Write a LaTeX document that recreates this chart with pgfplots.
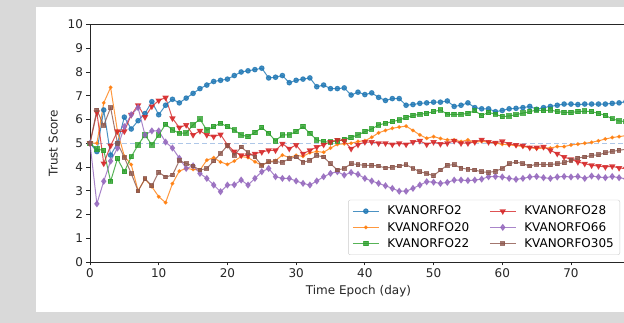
\documentclass[border=0pt]{standalone}
\usepackage{fontspec}
\setmainfont{DejaVu Sans}
\usepackage{pgfplots}
\pgfplotsset{compat=1.18}
\usepackage{pgfplotstable}
\definecolor{c1}{HTML}{1F77B4}
\definecolor{c2}{HTML}{FF7F0E}
\definecolor{c3}{HTML}{2CA02C}
\definecolor{c4}{HTML}{D62728}
\definecolor{c5}{HTML}{9467BD}
\definecolor{c6}{HTML}{8C564B}
\definecolor{bggray}{HTML}{D9D9D9}
\definecolor{refline}{HTML}{AEC7E8}
\pgfplotstableread{
x a b c d e f
0 5.0 5.0 5.0 5.0 5.0 5.0
1 4.65 5.0 4.75 6.3 2.45 6.4
2 6.4 6.7 4.7 4.15 3.4 5.75
3 4.5 7.35 3.4 4.9 4.25 6.5
4 5.0 5.5 4.35 5.5 4.8 5.0
5 6.1 4.45 3.8 5.5 5.7 4.4
6 5.6 4.1 4.43 6.2 6.2 3.73
7 5.95 3.0 4.93 6.6 6.5 2.99
8 6.25 3.5 5.35 6.1 5.35 3.5
9 6.75 3.17 4.93 6.55 5.52 3.21
10 6.2 2.75 5.35 6.8 5.52 3.78
11 6.6 2.5 5.8 6.92 5.05 3.58
12 6.85 3.3 5.56 6.05 4.8 3.66
13 6.7 3.83 5.42 5.66 4.37 4.27
14 6.9 3.94 5.43 5.77 3.94 4.15
15 7.1 3.9 5.77 5.35 4.05 4.04
16 7.3 3.87 6.02 5.52 3.73 3.87
17 7.45 4.29 5.55 5.35 3.52 3.94
18 7.6 4.39 5.7 5.28 3.24 4.25
19 7.65 4.21 5.84 5.37 2.96 4.57
20 7.7 4.11 5.7 4.93 3.24 4.9
21 7.85 4.25 5.56 4.65 3.25 4.49
22 8.0 4.44 5.35 4.49 3.45 4.84
23 8.05 4.4 5.28 4.49 3.24 4.6
24 8.1 4.22 5.46 4.56 3.52 4.42
25 8.16 4.07 5.66 4.63 3.8 4.07
26 7.75 4.22 5.42 4.7 3.94 4.22
27 7.78 4.27 5.1 4.7 3.59 4.22
28 7.85 4.5 5.35 4.98 3.52 4.2
29 7.55 4.4 5.35 4.77 3.52 4.35
30 7.65 4.49 5.5 4.93 3.41 4.42
31 7.7 4.45 5.7 4.56 3.31 4.2
32 7.75 4.6 5.42 4.7 3.24 4.28
33 7.38 4.65 5.14 4.84 3.41 4.49
34 7.45 4.62 5.07 4.94 3.59 4.42
35 7.3 4.8 5.05 5.05 3.73 4.14
36 7.3 4.95 5.1 5.14 3.8 3.87
37 7.33 4.98 5.17 5.1 3.66 3.94
38 7.03 5.0 5.25 4.77 3.77 4.14
39 7.15 5.07 5.35 4.94 3.69 4.1
40 7.05 5.11 5.49 5.05 3.52 4.07
41 7.12 5.25 5.6 5.05 3.41 4.07
42 6.93 5.44 5.77 5.0 3.31 4.04
43 6.8 5.54 5.84 5.0 3.21 3.96
44 6.88 5.63 5.91 4.95 3.1 3.99
45 6.88 5.68 5.98 5.0 2.98 4.04
46 6.6 5.72 6.08 4.95 2.98 4.1
47 6.63 5.54 6.17 5.05 3.1 3.94
48 6.68 5.35 6.22 5.1 3.24 3.8
49 6.7 5.21 6.26 4.95 3.38 3.73
50 6.73 5.28 6.33 5.05 3.36 3.63
51 6.73 5.2 6.4 4.97 3.31 3.87
52 6.78 5.14 6.22 5.0 3.35 4.07
53 6.55 5.14 6.22 5.1 3.45 4.1
54 6.6 5.07 6.22 5.0 3.45 3.95
55 6.7 5.14 6.26 5.0 3.43 3.91
56 6.5 5.04 6.37 5.05 3.45 3.87
57 6.45 5.08 6.17 5.15 3.49 3.8
58 6.45 5.04 6.3 5.05 3.59 3.77
59 6.33 5.0 6.22 5.02 3.6 3.82
60 6.38 4.96 6.12 5.08 3.58 3.94
61 6.45 4.93 6.15 4.97 3.52 4.14
62 6.47 4.9 6.2 4.93 3.48 4.21
63 6.5 4.86 6.27 4.9 3.52 4.14
64 6.55 4.82 6.33 4.82 3.58 4.04
65 6.43 4.77 6.4 4.82 3.6 4.12
66 6.5 4.8 6.37 4.85 3.55 4.1
67 6.55 4.8 6.4 4.7 3.52 4.1
68 6.6 4.86 6.33 4.56 3.58 4.14
69 6.65 4.86 6.3 4.42 3.6 4.18
70 6.65 4.93 6.3 4.32 3.58 4.28
71 6.63 4.96 6.33 4.21 3.6 4.38
72 6.65 5.0 6.35 4.14 3.52 4.42
73 6.65 5.04 6.33 4.07 3.62 4.49
74 6.65 5.1 6.26 4.04 3.58 4.51
75 6.65 5.18 6.17 4.0 3.55 4.6
76 6.68 5.24 6.03 4.03 3.6 4.66
77 6.7 5.28 5.94 3.96 3.55 4.7
78 6.75 5.32 5.91 3.93 3.5 4.75
}\data
\begin{document}
\begin{tikzpicture}
\path[use as bounding box] (0pt,0pt) rectangle (624pt,323pt);
\fill[bggray] (0pt,0pt) rectangle (624pt,323pt);
\fill[white] (36pt,11pt) rectangle (624pt,315.5pt);
\clip (0pt,0pt) rectangle (624pt,323pt);
\begin{axis}[
  at={(90pt,61pt)}, anchor=south west,
  scale only axis, width=537pt, height=237.5pt,
  xmin=0, xmax=78.15, ymin=0, ymax=10,
  xtick={0,10,...,70}, ytick={0,1,...,10},
  tick align=outside, xtick pos=bottom, ytick pos=left,
  major tick length=3.5pt,
  axis line style={black!85, line width=0.8pt},
  every tick/.style={black!85, line width=0.8pt},
  tick label style={font=\fontsize{12}{14}\selectfont, text=black!85},
  /pgf/number format/assume math mode=true,
  xlabel={Time Epoch (day)}, ylabel={Trust Score},
  label style={font=\fontsize{12}{14}\selectfont, text=black!85},
  ylabel style={xshift=0pt, yshift=3pt},
  legend columns=2,
  legend cell align=left,
  legend style={at={(1,0)}, anchor=south east, xshift=-7pt, yshift=7pt,
    draw=black!20, rounded corners=2pt, fill=white, fill opacity=0.8, text opacity=1,
    font=\fontsize{12}{14}\selectfont, inner sep=4pt, row sep=1.8pt,
    /tikz/every odd column/.append style={column sep=6pt},
    /tikz/every even column/.append style={column sep=18pt}},
  legend image code/.code={\draw[mark repeat=2,mark phase=2] plot coordinates {(0pt,0pt) (13pt,0pt) (26pt,0pt)};},
  every axis plot/.append style={line width=1pt, opacity=0.8},
]
\addplot[refline, dash pattern=on 5pt off 3pt, forget plot, opacity=1] coordinates {(0,5) (78.15,5)};
\addplot[c1, mark=*, mark size=2.3pt, forget plot] table[x=x,y=a]{\data};
\addplot[c2, mark=*, mark size=1.4pt, forget plot] table[x=x,y=b]{\data};
\addplot[c3, mark=square*, mark size=2.2pt, forget plot] table[x=x,y=c]{\data};
\addplot[c4, mark=triangle*, mark size=2.8pt, mark options={rotate=180}, forget plot] table[x=x,y=d]{\data};
\addplot[c5, mark=diamond*, mark size=2.8pt, forget plot] table[x=x,y=e]{\data};
\addplot[c6, mark=square*, mark size=1.9pt, forget plot] table[x=x,y=f]{\data};
\addlegendimage{c1, line width=1pt, opacity=0.8, mark=*, mark size=2.3pt}
\addlegendimage{c4, line width=1pt, opacity=0.8, mark=triangle*, mark size=2.8pt, mark options={rotate=180}}
\addlegendimage{c2, line width=1pt, opacity=0.8, mark=*, mark size=1.4pt}
\addlegendimage{c5, line width=1pt, opacity=0.8, mark=diamond*, mark size=2.8pt}
\addlegendimage{c3, line width=1pt, opacity=0.8, mark=square*, mark size=2.2pt}
\addlegendimage{c6, line width=1pt, opacity=0.8, mark=square*, mark size=1.9pt}
\legend{KVANORFO2, KVANORFO28, KVANORFO20, KVANORFO66, KVANORFO22, KVANORFO305}
\end{axis}
\end{tikzpicture}
\end{document}
